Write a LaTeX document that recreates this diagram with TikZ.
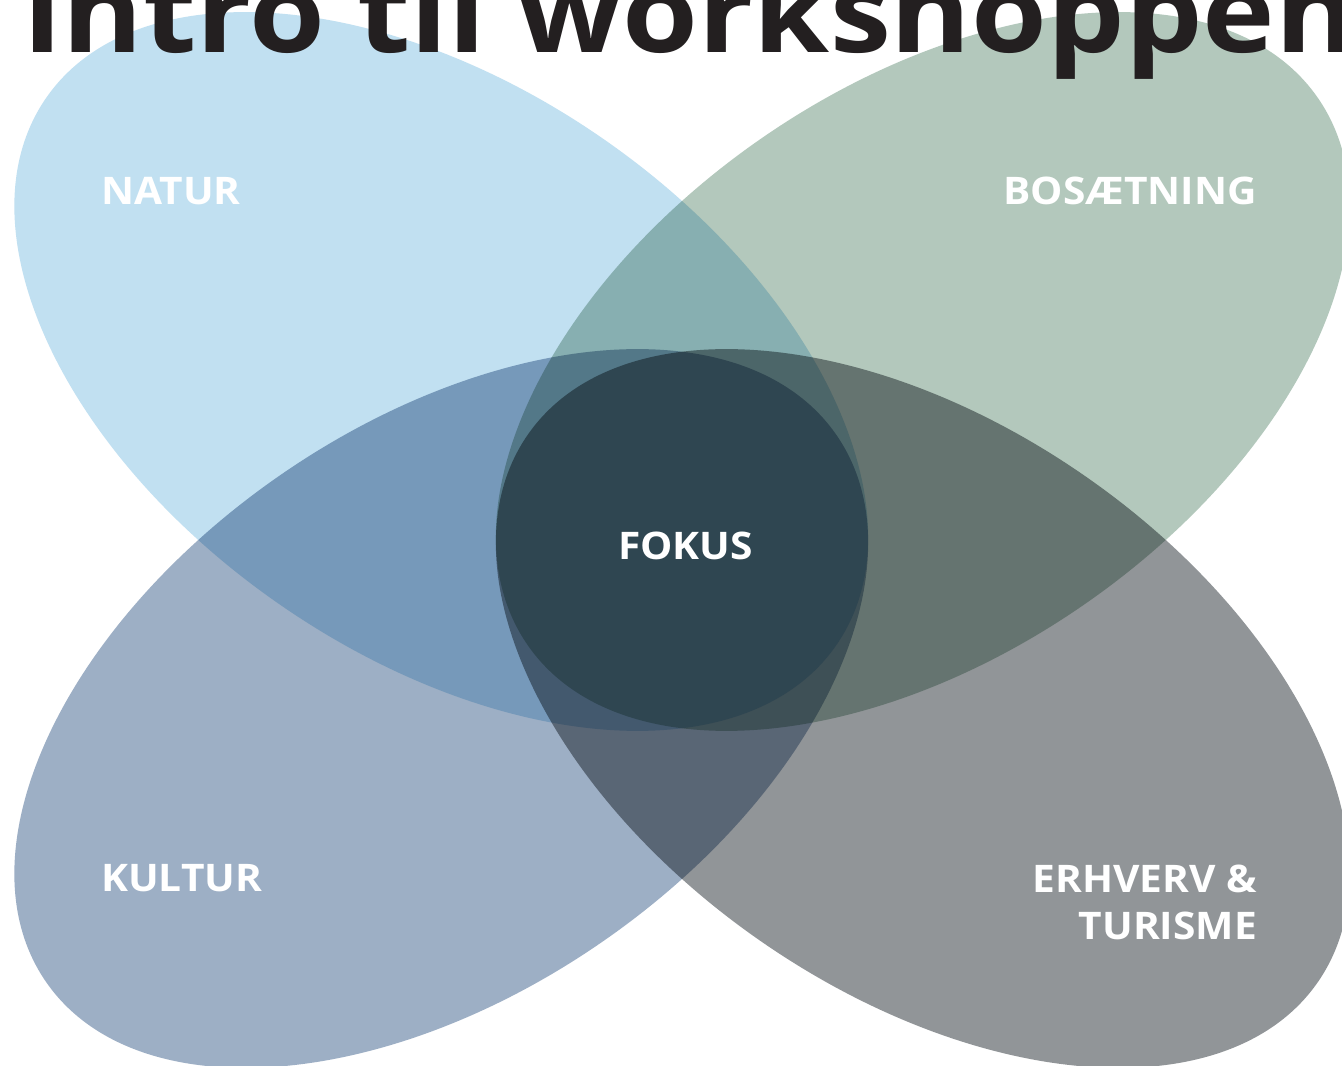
\documentclass[tikz,border=0pt]{standalone}
\usepackage{fontspec}
\setmainfont{Open Sans}
\newfontfamily\titlefont{Open Sans}
\definecolor{naturc}{HTML}{C1E0F1}
\definecolor{bosc}{HTML}{B3C8BC}
\definecolor{kulturc}{HTML}{9DAFC5}
\definecolor{erhvc}{HTML}{919598}
\definecolor{titlec}{HTML}{231F20}
\newcommand\widelbl[1]{\scalebox{1.07}[1]{#1}}
\tikzset{
  petal/.style={draw=none},
  lbl/.style={text=white, inner sep=0pt, font=\fontsize{38}{47.5}\selectfont\bfseries},
  ttl/.style={text=titlec, inner sep=0pt, font=\titlefont\fontsize{112}{120}\selectfont\bfseries}
}
\begin{document}
\begin{tikzpicture}[x=1pt,y=1pt]
\useasboundingbox (0,0) rectangle (1342,1066);
\clip (0,0) rectangle (1342,1066);
\fill[white] (0,0) rectangle (1342,1066);
\begin{scope}[blend mode=multiply]
  \fill[petal, naturc, rotate around={-34.7:(441.25,694.5)}] (441.25,694.5) ellipse [x radius=480.6pt, y radius=283.5pt];
  \fill[petal, bosc, rotate around={34.7:(922.75,694.5)}] (922.75,694.5) ellipse [x radius=480.6pt, y radius=283.5pt];
  \fill[petal, kulturc, rotate around={34.7:(441.25,357.5)}] (441.25,357.5) ellipse [x radius=480.6pt, y radius=283.5pt];
  \fill[petal, erhvc, rotate around={-34.7:(922.75,357.5)}] (922.75,357.5) ellipse [x radius=480.6pt, y radius=283.5pt];
\end{scope}
\node[ttl, anchor=base west] (title) at (22,1013) {\scalebox{1.095}[1]{Intro til workshoppen}};
\node[lbl, anchor=base west] (natur) at (101,861) {\widelbl{NATUR}};
\node[lbl, anchor=base east] (bos) at (1257,861) {\widelbl{BOSÆTNING}};
\node[lbl, anchor=base west] (kultur) at (101,174) {\widelbl{KULTUR}};
\node[lbl, anchor=base east, align=right] (erhverv) at (1257,126) {\widelbl{ERHVERV \&}\\\widelbl{TURISME}};
\node[lbl, anchor=base] (fokus) at (685.5,506) {\widelbl{FOKUS}};
\end{tikzpicture}
\end{document}
